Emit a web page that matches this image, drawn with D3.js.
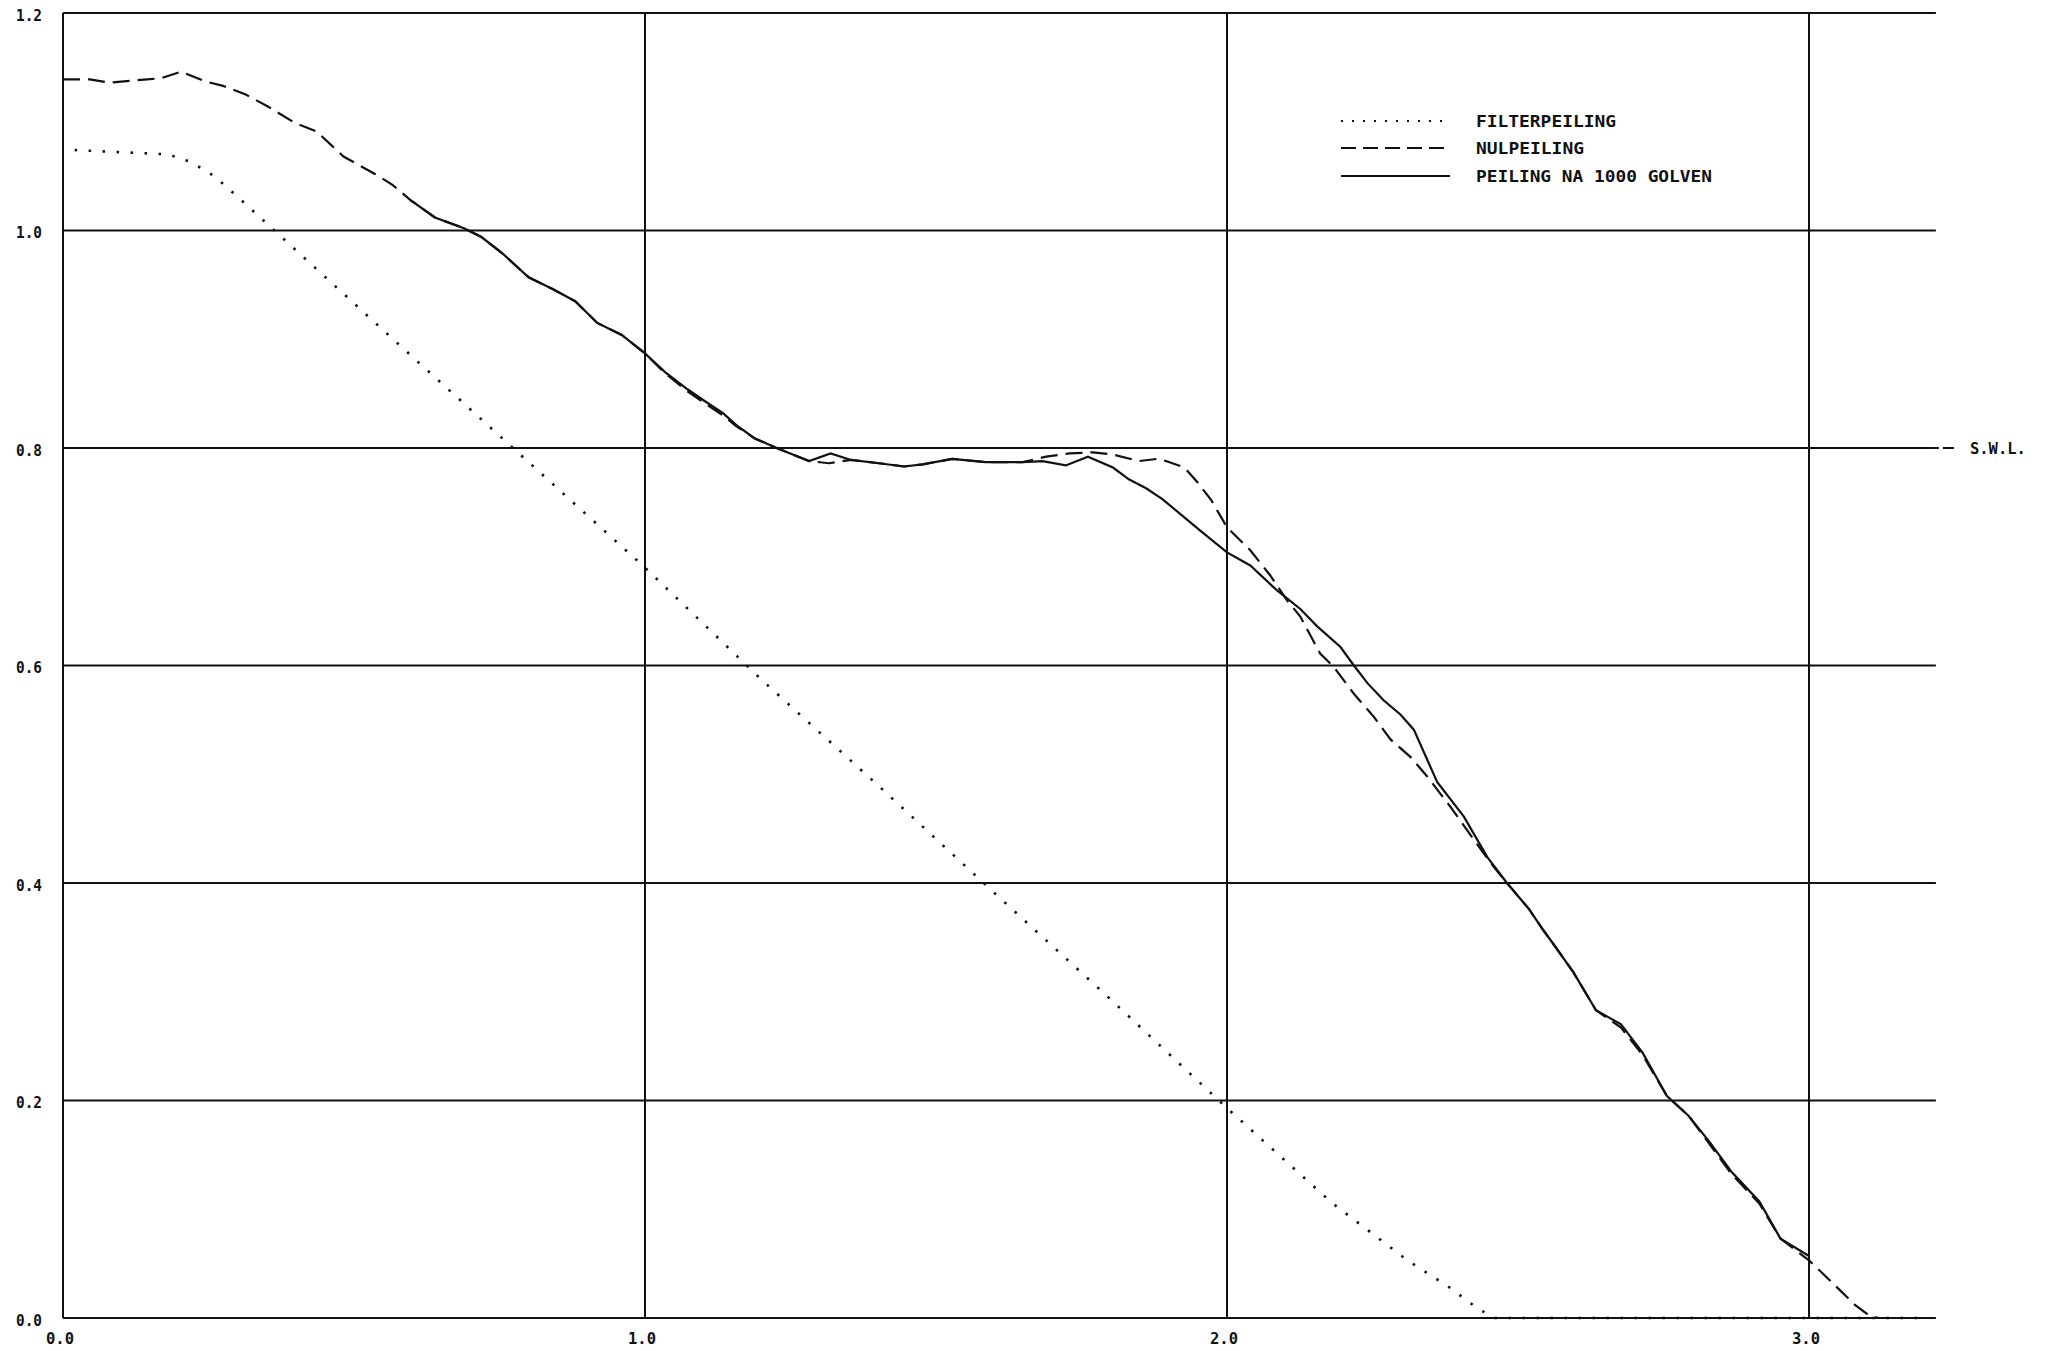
<!DOCTYPE html>
<html>
<head>
<meta charset="utf-8">
<script src="https://cdn.jsdelivr.net/npm/d3@7"></script>
<style>
  html, body { margin: 0; padding: 0; background: #fff; }
  svg { display: block; }
  text { font-family: "DejaVu Sans Mono", "Liberation Mono", monospace; font-weight: bold; fill: #111; }
</style>
</head>
<body>
<svg id="chart" width="2056" height="1351"></svg>
<script>
// ---------------- data ----------------
const xTicks = [0, 1, 2, 3];
const xTickLabels = ["0.0", "1.0", "2.0", "3.0"];
const yTicks = [0, 0.2, 0.4, 0.6, 0.8, 1.0, 1.2];
const yTickLabels = ["0.0", "0.2", "0.4", "0.6", "0.8", "1.0", "1.2"];
const swlLevel = 0.8;
const swlLabel = "S.W.L.";
const seriesNames = ["FILTERPEILING", "NULPEILING", "PEILING NA 1000 GOLVEN"];

// FILTERPEILING (dotted)
const filterX = [0.02, 0.10, 0.18, 0.22, 0.26, 0.30, 0.40, 0.60, 0.80, 1.00, 1.20, 1.40, 1.60, 1.80, 2.00, 2.18, 2.31, 2.38, 2.43, 2.46, 3.20];
const filterY = [1.074, 1.072, 1.070, 1.063, 1.050, 1.031, 0.982, 0.884, 0.787, 0.690, 0.587, 0.490, 0.391, 0.293, 0.193, 0.106, 0.053, 0.029, 0.009, 0.000, 0.000];

// NULPEILING (dashed)
const nulX = [0, 0.046, 0.080, 0.145, 0.168, 0.203, 0.245, 0.275, 0.314, 0.352, 0.398, 0.436, 0.482, 0.536, 0.566, 0.597, 0.639, 0.689, 0.719, 0.757, 0.800, 0.842, 0.880, 0.918, 0.960, 1.000, 1.034, 1.073, 1.103, 1.134, 1.157, 1.188, 1.226, 1.282, 1.316, 1.354, 1.402, 1.445, 1.477, 1.528, 1.585, 1.649, 1.689, 1.729, 1.769, 1.804, 1.849, 1.880, 1.895, 1.927, 1.950, 1.973, 2.000, 2.040, 2.074, 2.103, 2.126, 2.160, 2.183, 2.218, 2.252, 2.281, 2.315, 2.344, 2.384, 2.424, 2.458, 2.481, 2.519, 2.543, 2.562, 2.595, 2.634, 2.677, 2.714, 2.756, 2.793, 2.829, 2.866, 2.915, 2.951, 3.000, 3.037, 3.079, 3.104, 3.120, 3.198];
const nulY = [1.139, 1.139, 1.136, 1.139, 1.140, 1.146, 1.137, 1.133, 1.125, 1.114, 1.099, 1.091, 1.068, 1.052, 1.042, 1.028, 1.012, 1.002, 0.994, 0.978, 0.957, 0.946, 0.935, 0.915, 0.904, 0.887, 0.869, 0.852, 0.841, 0.830, 0.820, 0.809, 0.800, 0.788, 0.786, 0.789, 0.786, 0.783, 0.785, 0.790, 0.787, 0.787, 0.792, 0.795, 0.796, 0.794, 0.788, 0.790, 0.788, 0.782, 0.768, 0.752, 0.727, 0.706, 0.683, 0.660, 0.645, 0.611, 0.599, 0.574, 0.553, 0.532, 0.516, 0.498, 0.470, 0.440, 0.415, 0.400, 0.376, 0.357, 0.343, 0.318, 0.283, 0.267, 0.242, 0.204, 0.186, 0.160, 0.133, 0.105, 0.073, 0.053, 0.034, 0.012, 0.002, 0.000, 0.000];

// PEILING NA 1000 GOLVEN (solid)
const peilX = [0.597, 0.639, 0.689, 0.719, 0.757, 0.800, 0.842, 0.880, 0.918, 0.960, 1.000, 1.034, 1.073, 1.103, 1.134, 1.157, 1.188, 1.226, 1.282, 1.319, 1.354, 1.402, 1.445, 1.477, 1.528, 1.585, 1.649, 1.683, 1.723, 1.761, 1.804, 1.832, 1.861, 1.889, 1.954, 2.000, 2.040, 2.086, 2.126, 2.155, 2.195, 2.218, 2.241, 2.269, 2.298, 2.321, 2.361, 2.407, 2.447, 2.481, 2.519, 2.543, 2.562, 2.595, 2.634, 2.677, 2.714, 2.756, 2.793, 2.829, 2.866, 2.915, 2.951, 3.000];
const peilY = [1.028, 1.012, 1.002, 0.994, 0.978, 0.957, 0.946, 0.935, 0.915, 0.904, 0.887, 0.870, 0.854, 0.843, 0.832, 0.821, 0.809, 0.800, 0.788, 0.795, 0.789, 0.786, 0.783, 0.785, 0.790, 0.787, 0.787, 0.788, 0.784, 0.792, 0.782, 0.771, 0.763, 0.753, 0.724, 0.704, 0.692, 0.669, 0.652, 0.636, 0.617, 0.600, 0.584, 0.568, 0.555, 0.541, 0.493, 0.461, 0.424, 0.400, 0.376, 0.357, 0.343, 0.318, 0.283, 0.270, 0.244, 0.204, 0.186, 0.162, 0.135, 0.107, 0.073, 0.057];

// ---------------- chart ----------------
const svg = d3.select("#chart");
const x = d3.scaleLinear().domain([0, 3]).range([63, 1809]);
const y = d3.scaleLinear().domain([0, 1.2]).range([1318, 13]);
const xEnd = 3.218;

const grid = svg.append("g").attr("stroke", "#111").attr("stroke-width", 2).attr("fill", "none");
// horizontal grid lines
grid.selectAll("line.h").data(yTicks).join("line")
  .attr("class", "h")
  .attr("x1", x(0)).attr("x2", x(xEnd))
  .attr("y1", d => y(d)).attr("y2", d => y(d));
// vertical grid lines
grid.selectAll("line.v").data(xTicks).join("line")
  .attr("class", "v")
  .attr("x1", d => x(d)).attr("x2", d => x(d))
  .attr("y1", y(0)).attr("y2", y(1.2));

// S.W.L. extension
svg.append("line").attr("stroke", "#111").attr("stroke-width", 2)
  .attr("x1", x(xEnd)).attr("x2", x(xEnd) + 3).attr("y1", y(swlLevel)).attr("y2", y(swlLevel));
svg.append("line").attr("stroke", "#111").attr("stroke-width", 2)
  .attr("x1", x(xEnd) + 7).attr("x2", x(xEnd) + 18).attr("y1", y(swlLevel)).attr("y2", y(swlLevel));
svg.append("text").attr("x", x(xEnd) + 34).attr("y", y(swlLevel)).attr("dy", "0.36em")
  .attr("font-size", 16).attr("textLength", 56).attr("lengthAdjust", "spacingAndGlyphs")
  .text(swlLabel);

// tick labels
svg.selectAll("text.yl").data(yTicks).join("text")
  .attr("class", "yl")
  .attr("x", 42).attr("y", d => y(d) + 2).attr("dy", "0.36em")
  .attr("text-anchor", "end").attr("font-size", 16)
  .attr("textLength", 26).attr("lengthAdjust", "spacingAndGlyphs")
  .text((d, i) => yTickLabels[i]);
svg.selectAll("text.xl").data(xTicks).join("text")
  .attr("class", "xl")
  .attr("x", d => x(d) - 3).attr("y", 1338).attr("dy", "0.36em")
  .attr("text-anchor", "middle").attr("font-size", 16)
  .attr("textLength", 28).attr("lengthAdjust", "spacingAndGlyphs")
  .text((d, i) => xTickLabels[i]);

// curves
const line = d3.line().x(d => x(d[0])).y(d => y(d[1]));
const filterData = filterX.map((v, i) => [v, filterY[i]]);
const nulData = nulX.map((v, i) => [v, nulY[i]]);
const peilData = peilX.map((v, i) => [v, peilY[i]]);

const styles = [
  { dash: "2.5,11.5", width: 2.6 },
  { dash: "17,8", width: 2.2 },
  { dash: null, width: 2.2 }
];

svg.append("path").datum(filterData).attr("d", line)
  .attr("fill", "none").attr("stroke", "#111")
  .attr("stroke-width", styles[0].width).attr("stroke-dasharray", styles[0].dash);
svg.append("path").datum(nulData).attr("d", line)
  .attr("fill", "none").attr("stroke", "#111")
  .attr("stroke-width", styles[1].width).attr("stroke-dasharray", styles[1].dash);
svg.append("path").datum(peilData).attr("d", line)
  .attr("fill", "none").attr("stroke", "#111")
  .attr("stroke-width", styles[2].width);

// legend
const legendRows = [121, 148, 176];
const legendLen = [140, 108, 236];
const leg = svg.append("g");
seriesNames.forEach((name, i) => {
  leg.append("line")
    .attr("x1", 1341).attr("x2", 1450)
    .attr("y1", legendRows[i]).attr("y2", legendRows[i])
    .attr("stroke", "#111").attr("stroke-width", i === 0 ? 2.2 : 2)
    .attr("stroke-dasharray", i === 0 ? "2,9" : (i === 1 ? "15,7" : null));
  leg.append("text")
    .attr("x", 1476).attr("y", legendRows[i]).attr("dy", "0.36em")
    .attr("font-size", 16)
    .attr("textLength", legendLen[i]).attr("lengthAdjust", "spacingAndGlyphs")
    .text(name);
});
</script>
</body>
</html>
